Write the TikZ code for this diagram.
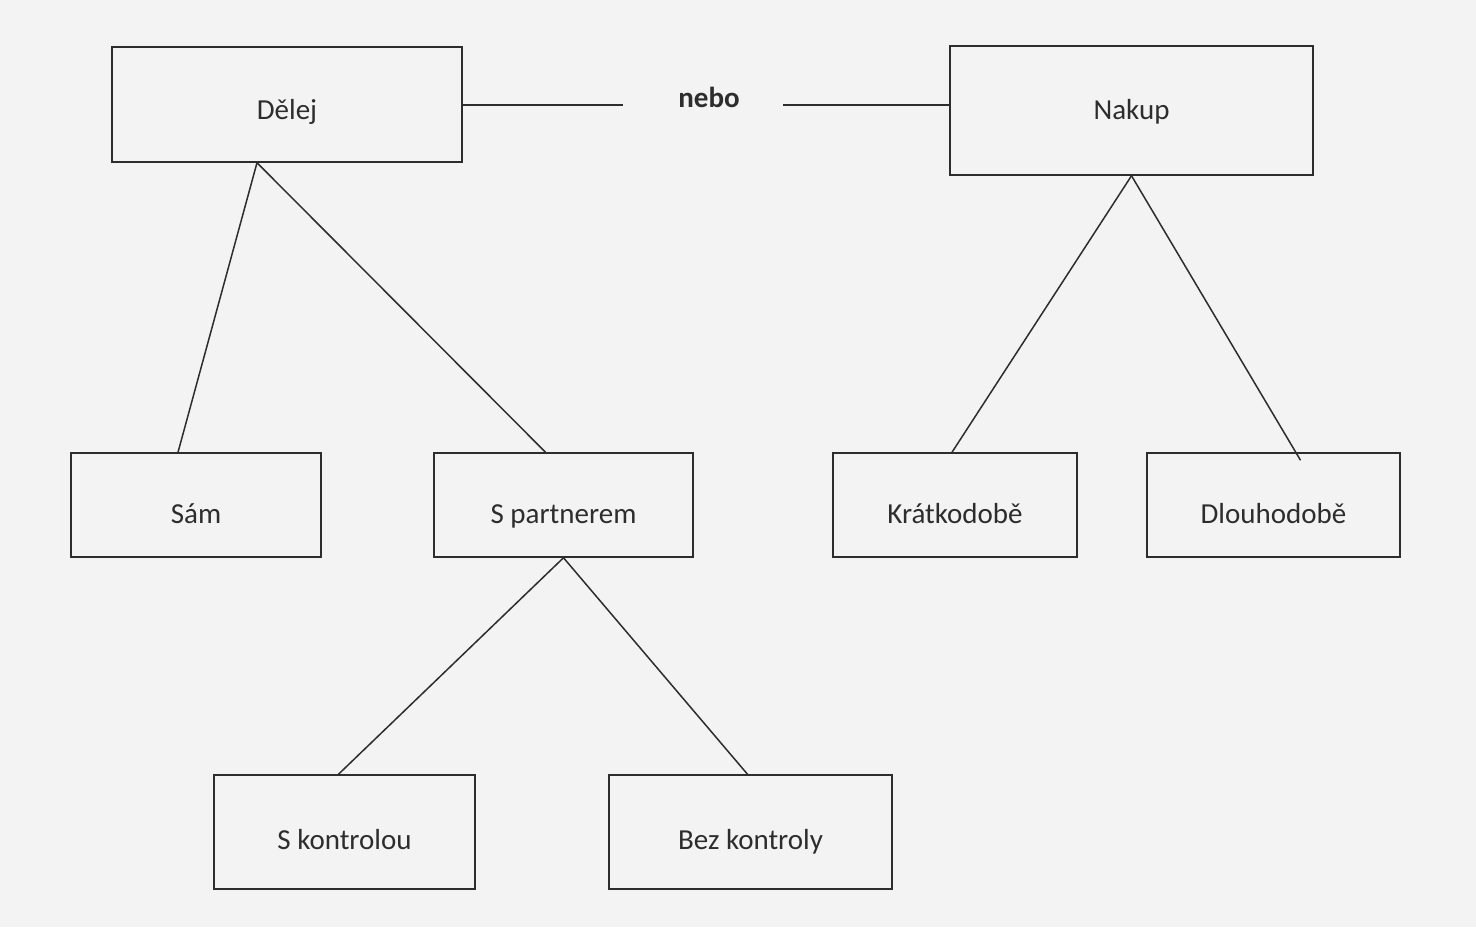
\documentclass[tikz,border=0pt]{standalone}
\usepackage{fontspec}
\setmainfont{Carlito}
\definecolor{paper}{RGB}{243,243,243}
\definecolor{ink}{RGB}{45,45,45}
\definecolor{txt}{RGB}{45,45,45}
\begin{document}
\begin{tikzpicture}[x=1pt,y=-1pt,
  box/.style={draw=ink, line width=1.5pt, rectangle, inner sep=0pt,
    font=\fontsize{29}{34}\selectfont, text=txt, text depth=0pt},
  conn/.style={draw=ink, line width=1.5pt}]
\fill[paper] (0,0) rectangle (1476,927);
\useasboundingbox (0,0) rectangle (1476,927);
\node[box, minimum width=350, minimum height=115, text height=29pt] (dele) at (287,104.5) {Dělej};
\node[box, minimum width=363, minimum height=129, text height=17pt] (nakup) at (1131.5,110.5) {Nakup};
\node[inner sep=0pt, minimum width=160, text height=4pt, text depth=0pt,
  font=\fontsize{29}{34}\selectfont\bfseries, text=txt] (nebo) at (703,105) {\hspace*{12pt}nebo};
\node[box, minimum width=250, minimum height=104, text height=36pt] (sam) at (196,505) {Sám};
\node[box, minimum width=259, minimum height=104, text height=36pt] (spar) at (563.5,505) {S partnerem};
\node[box, minimum width=244, minimum height=104, text height=36pt] (kratk) at (955,505) {Krátkodobě};
\node[box, minimum width=253, minimum height=104, text height=36pt] (dlouh) at (1273.5,505) {Dlouhodobě};
\node[box, minimum width=261, minimum height=114, text height=34pt] (skon) at (344.5,832) {S kontrolou};
\node[box, minimum width=283, minimum height=114, text height=34pt] (bezk) at (750.5,832) {Bez kontroly};
\draw[conn] (dele.east |- nebo.west) -- (nebo.west);
\draw[conn] (nebo.east) -- (nakup.west |- nebo.east);
\draw[conn] ([xshift=-30pt]dele.south) -- ([xshift=-18pt]sam.north);
\draw[conn] ([xshift=-30pt]dele.south) -- ([xshift=-18pt]spar.north);
\draw[conn] (nakup.south) -- ([xshift=-3pt]kratk.north);
\draw[conn] (nakup.south) -- ([xshift=27pt,yshift=-8pt]dlouh.north);
\draw[conn] (spar.south) -- ([xshift=-6pt]skon.north);
\draw[conn] (spar.south) -- ([xshift=-3pt]bezk.north);
\end{tikzpicture}
\end{document}
